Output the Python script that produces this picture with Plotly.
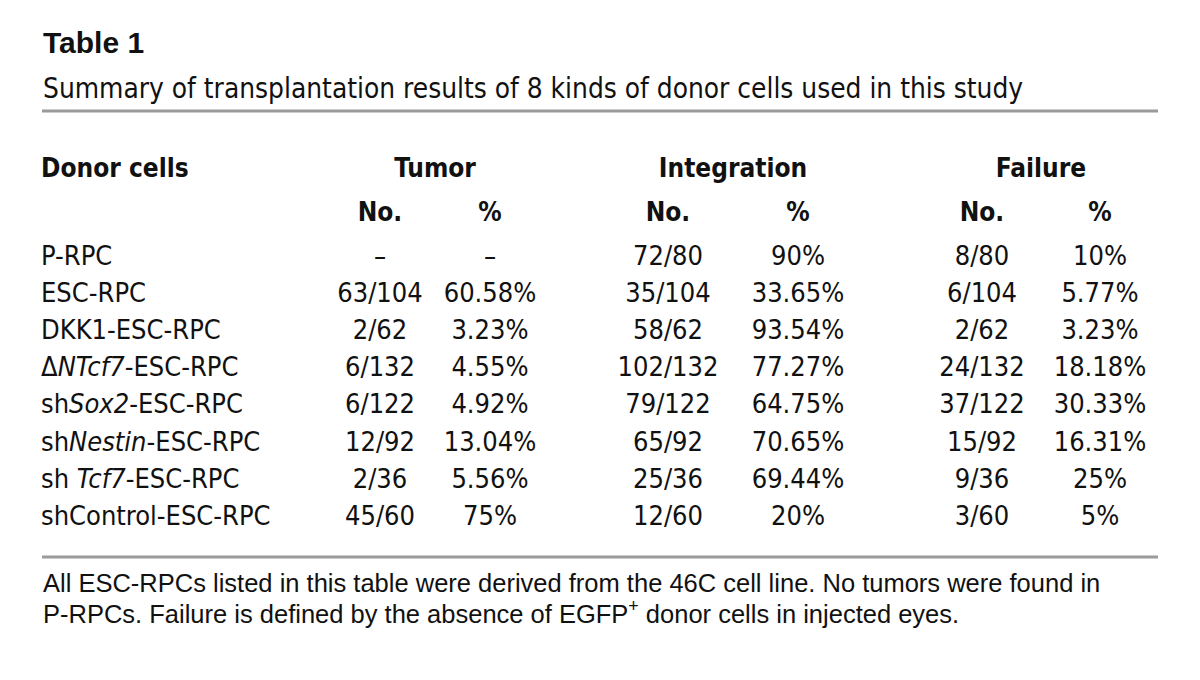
import plotly.graph_objects as go

# ---- data ----
donor_cells = [
    "P-RPC",
    "ESC-RPC",
    "DKK1-ESC-RPC",
    "Δ<i>NTcf7</i>-ESC-RPC",
    "sh<i>Sox2</i>-ESC-RPC",
    "sh<i>Nestin</i>-ESC-RPC",
    "sh <i>Tcf7</i>-ESC-RPC",
    "shControl-ESC-RPC",
]
tumor_no = ["–", "63/104", "2/62", "6/132", "6/122", "12/92", "2/36", "45/60"]
tumor_pct = ["–", "60.58%", "3.23%", "4.55%", "4.92%", "13.04%", "5.56%", "75%"]
integ_no = ["72/80", "35/104", "58/62", "102/132", "79/122", "65/92", "25/36", "12/60"]
integ_pct = ["90%", "33.65%", "93.54%", "77.27%", "64.75%", "70.65%", "69.44%", "20%"]
fail_no = ["8/80", "6/104", "2/62", "24/132", "37/122", "15/92", "9/36", "3/60"]
fail_pct = ["10%", "5.77%", "3.23%", "18.18%", "30.33%", "16.31%", "25%", "5%"]

group_headers = ["Tumor", "Integration", "Failure"]
sub_headers = ["No.", "%", "No.", "%", "No.", "%"]

title = "Table 1"
subtitle = "Summary of transplantation results of 8 kinds of donor cells used in this study"
footnote_lines = [
    "All ESC-RPCs listed in this table were derived from the 46C cell line. No tumors were found in",
    "P-RPCs. Failure is defined by the absence of EGFP<sup>+</sup> donor cells in injected eyes.",
]

# ---- layout constants ----
NARROW = "DejaVu Sans Condensed, Liberation Sans Narrow, sans-serif"
REG = "Liberation Sans, Arial, sans-serif"
BODY = 27
HEAD = 26
INK = "#111111"
LEFT = 41
col_x = [380, 490, 668, 798, 982, 1100]
group_x = [435, 733, 1041]
row_y0, row_dy = 258, 37.15
row_y = [row_y0 + i * row_dy for i in range(len(donor_cells))]

fig = go.Figure()


def text_trace(xs, ys, texts, pos, size, family=NARROW):
    fig.add_trace(go.Scatter(
        x=xs, y=ys, text=texts, mode="text", textposition=pos,
        textfont=dict(family=family, size=size, color=INK),
        hoverinfo="skip", showlegend=False))


# body
text_trace([LEFT] * len(donor_cells), row_y, donor_cells, "middle right", BODY)
for cx, col in zip(col_x, [tumor_no, tumor_pct, integ_no, integ_pct, fail_no, fail_pct]):
    text_trace([cx] * len(col), row_y, col, "middle center", BODY)

# headers
text_trace([LEFT], [170], ["<b>Donor cells</b>"], "middle right", HEAD)
text_trace(group_x, [170] * 3, [f"<b>{h}</b>" for h in group_headers], "middle center", HEAD)
text_trace(col_x, [214] * 6, [f"<b>{h}</b>" for h in sub_headers], "middle center", HEAD)

# title / subtitle / footnote
fig.add_annotation(x=LEFT, y=42, text=f"<b>{title}</b>", xanchor="left", yanchor="middle",
                   showarrow=False, font=dict(family=REG, size=30, color=INK))
fig.add_annotation(x=LEFT, y=88, text=subtitle, xanchor="left", yanchor="middle",
                   showarrow=False, font=dict(family=NARROW, size=27.8, color=INK))
for yy, line in zip([583, 612], footnote_lines):
    fig.add_annotation(x=LEFT, y=yy, text=line, xanchor="left", yanchor="middle", align="left",
                       showarrow=False, font=dict(family=REG, size=25.5, color=INK))

# rules
for yy in [111, 557]:
    fig.add_shape(type="line", x0=42, x1=1158, y0=yy, y1=yy, xref="x", yref="y",
                  line=dict(color="#9a9a9a", width=3))

# the page body adds an 8px margin; shift the ranges so the picture lands where intended
fig.update_xaxes(range=[8, 1208], visible=False, fixedrange=True)
fig.update_yaxes(range=[688, 8], visible=False, fixedrange=True)
fig.update_layout(width=1200, height=680, margin=dict(l=0, r=0, t=0, b=0),
                  paper_bgcolor="white", plot_bgcolor="white")

fig.write_html("out.html")
